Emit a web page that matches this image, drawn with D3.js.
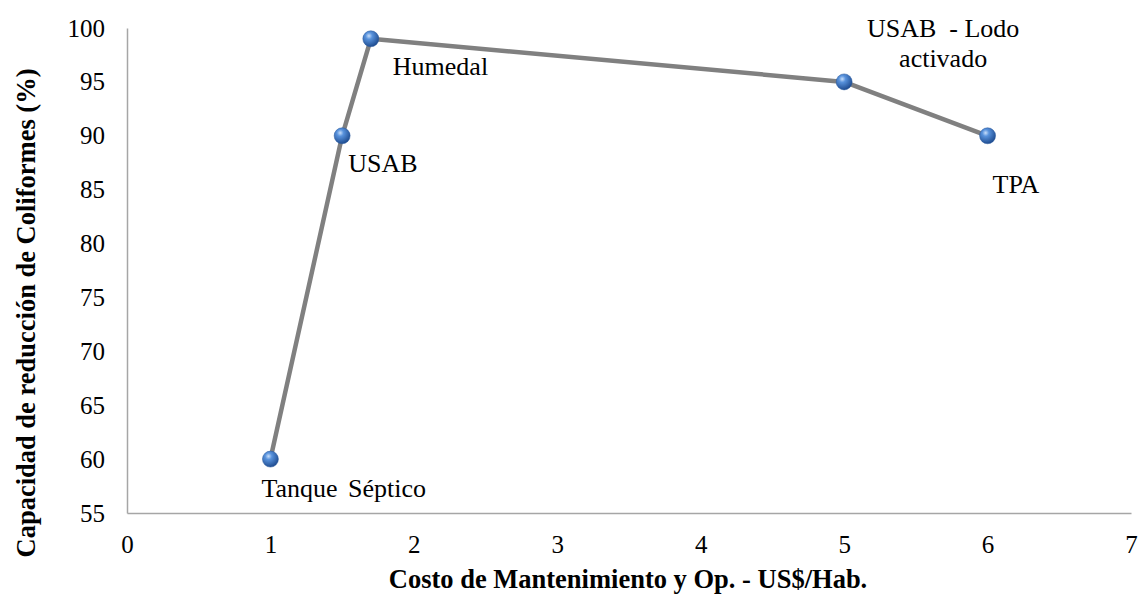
<!DOCTYPE html>
<html>
<head>
<meta charset="utf-8">
<script src="https://cdn.jsdelivr.net/npm/d3@7"></script>
<style>
  html, body { margin: 0; padding: 0; background: #fff; }
  svg { display: block; }
</style>
</head>
<body>
<svg id="chart" width="1142" height="597"></svg>
<script>
// Maintenance cost vs. coliform removal capacity per treatment technology
const technologies = ["Tanque Séptico", "USAB", "Humedal", "USAB - Lodo activado", "TPA"];
const costs = [1, 1.5, 1.7, 5, 6];
const removal = [60, 90, 99, 95, 90];
const xTicks = [0, 1, 2, 3, 4, 5, 6, 7];
const yTicks = [55, 60, 65, 70, 75, 80, 85, 90, 95, 100];

// Label placement (offsets from each point, in px) and line breaks
const labelLines = [["Tanque Séptico"], ["USAB"], ["Humedal"], ["USAB  - Lodo", "activado"], ["TPA"]];
const labelOffsets = [[-9, 38], [6, 36], [22, 36], [99, -45], [5, 57]];
const labelAnchors = ["start", "start", "start", "middle", "start"];
const labelWordSpacing = [4, 0, 0, 0, 0];

const SERIF = "'Liberation Serif', 'Times New Roman', serif";

const svg = d3.select("#chart");
const W = 1142, H = 597;
const margin = { left: 127, right: 11, top: 28, bottom: 84 };

const x = d3.scaleLinear().domain([0, 7]).range([margin.left, W - margin.right]);
const y = d3.scaleLinear().domain([55, 100]).range([H - margin.bottom, margin.top]);

// Marker gradient (glossy sphere)
const defs = svg.append("defs");
const grad = defs.append("radialGradient").attr("id", "ball")
  .attr("cx", "38%").attr("cy", "32%").attr("r", "70%");
grad.append("stop").attr("offset", "0%").attr("stop-color", "#c8defa");
grad.append("stop").attr("offset", "30%").attr("stop-color", "#5892dc");
grad.append("stop").attr("offset", "100%").attr("stop-color", "#1d4a8e");

// Axes (no tick marks, grey baselines)
const xAxis = d3.axisBottom(x).tickValues(xTicks).tickSize(0).tickPadding(22).tickFormat(d3.format("d"));
const yAxis = d3.axisLeft(y).tickValues(yTicks).tickSize(0).tickPadding(22).tickFormat(d3.format("d"));

const gx = svg.append("g").attr("transform", `translate(0,${y(55)})`).call(xAxis);
const gy = svg.append("g").attr("transform", `translate(${x(0)},0)`).call(yAxis);

[gx, gy].forEach(g => {
  g.select(".domain").attr("stroke", "#a6a6a6").attr("stroke-width", 1.5);
  g.selectAll("text")
    .style("font-family", SERIF)
    .style("font-size", "25px")
    .style("fill", "#000");
});

// Axis titles
svg.append("text")
  .attr("x", 628).attr("y", 588)
  .attr("text-anchor", "middle")
  .style("font-family", SERIF)
  .style("font-size", "26.5px").style("font-weight", "bold")
  .text("Costo de Mantenimiento y Op. - US$/Hab.");

svg.append("text")
  .attr("transform", `translate(35,313) rotate(-90)`)
  .attr("text-anchor", "middle")
  .style("font-family", SERIF)
  .style("font-size", "26.5px").style("font-weight", "bold")
  .text("Capacidad de reducción de Coliformes (%)");

// Series line
const pts = costs.map((c, i) => ({ c, r: removal[i], i }));
svg.append("path")
  .datum(pts)
  .attr("fill", "none")
  .attr("stroke", "#808080")
  .attr("stroke-width", 4.5)
  .attr("stroke-linejoin", "round")
  .attr("d", d3.line().x(d => x(d.c)).y(d => y(d.r)));

// Markers
svg.selectAll("circle.pt").data(pts).join("circle")
  .attr("class", "pt")
  .attr("cx", d => x(d.c)).attr("cy", d => y(d.r)).attr("r", 8)
  .attr("fill", "url(#ball)")
  .attr("stroke", "#2a5a9e").attr("stroke-width", 0.5);

// Data labels
pts.forEach(d => {
  const [dx, dy] = labelOffsets[d.i];
  const t = svg.append("text")
    .attr("x", x(d.c) + dx).attr("y", y(d.r) + dy)
    .attr("text-anchor", labelAnchors[d.i])
    .style("font-family", SERIF)
    .style("font-size", "26px")
    .style("word-spacing", labelWordSpacing[d.i] + "px")
    .style("white-space", "pre")
    .style("fill", "#000");
  labelLines[d.i].forEach((line, k) => {
    t.append("tspan").attr("x", x(d.c) + dx).attr("dy", k === 0 ? 0 : 30).text(line);
  });
});
</script>
</body>
</html>
